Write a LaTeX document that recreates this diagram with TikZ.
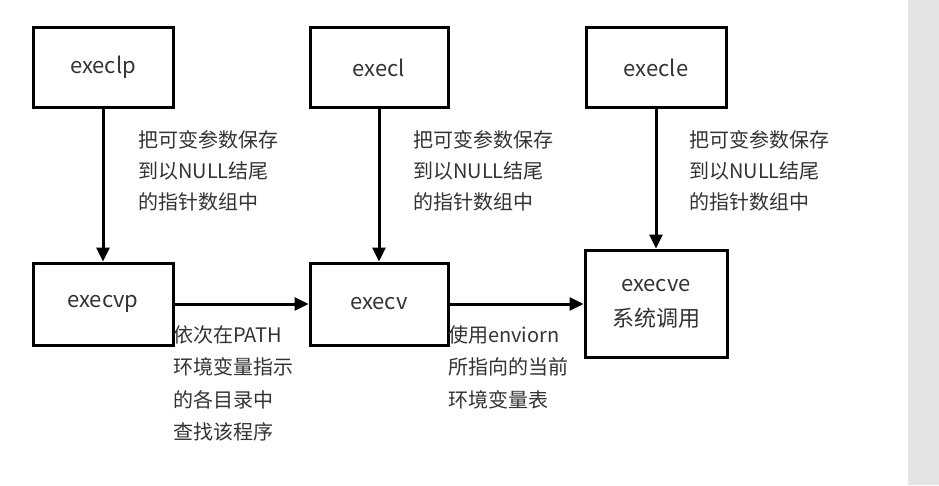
\documentclass[tikz,border=0pt]{standalone}
\usepackage{fontspec}
\setmainfont{Noto Sans CJK SC}
\usetikzlibrary{arrows.meta}
\definecolor{txt}{HTML}{333333}
\definecolor{panel}{HTML}{E4E4E4}
\begin{document}
\begin{tikzpicture}[x=1pt,y=-1pt,
  fbox/.style={draw=black,line width=3pt,minimum width=140pt,minimum height=80pt,inner sep=0pt,text=txt,font=\fontsize{22}{35}\selectfont,align=center},
  note/.style={anchor=north west,inner sep=0pt,text=txt,align=left,font=\fontsize{20}{31}\selectfont},
  notelow/.style={note,font=\fontsize{20}{32.5}\selectfont},
  conn/.style={draw=black,line width=3pt,-{Triangle[length=14pt,width=13pt]}}]
\useasboundingbox (0,0) rectangle (939,485);
\fill[white] (0,0) rectangle (939,485);
\fill[panel] (908,0) rectangle (939,485);
\node[fbox] (execlp) at (103,67.5) {execlp};
\node[fbox,minimum width=138pt] (execl) at (379,67.5) {execl};
\node[fbox] (execle) at (656,67.5) {execle};
\node[fbox,minimum height=82pt] (execvp) at (103,304) {execvp};
\node[fbox,minimum width=138pt,minimum height=82pt] (execv) at (379,304) {execv};
\node[fbox,minimum width=142pt,minimum height=107pt] (execve) at (656,303.5) {execve\\系统调用};
\draw[conn] (execlp) -- (execvp);
\draw[conn] (execl) -- (execv);
\draw[conn] (execle) -- (execve);
\draw[conn] (execvp) -- (execv);
\draw[conn] (execv) -- (execve.west |- execv.east);
\node[note] (n1) at (138,130) {把可变参数保存\\到以NULL结尾\\的指针数组中};
\node[note] (n2) at (413,130) {把可变参数保存\\到以NULL结尾\\的指针数组中};
\node[note] (n3) at (689,130) {把可变参数保存\\到以NULL结尾\\的指针数组中};
\node[notelow] (n4) at (173,325) {依次在PATH\\环境变量指示\\的各目录中\\查找该程序};
\node[notelow] (n5) at (448,325) {使用enviorn\\所指向的当前\\环境变量表};
\end{tikzpicture}
\end{document}
